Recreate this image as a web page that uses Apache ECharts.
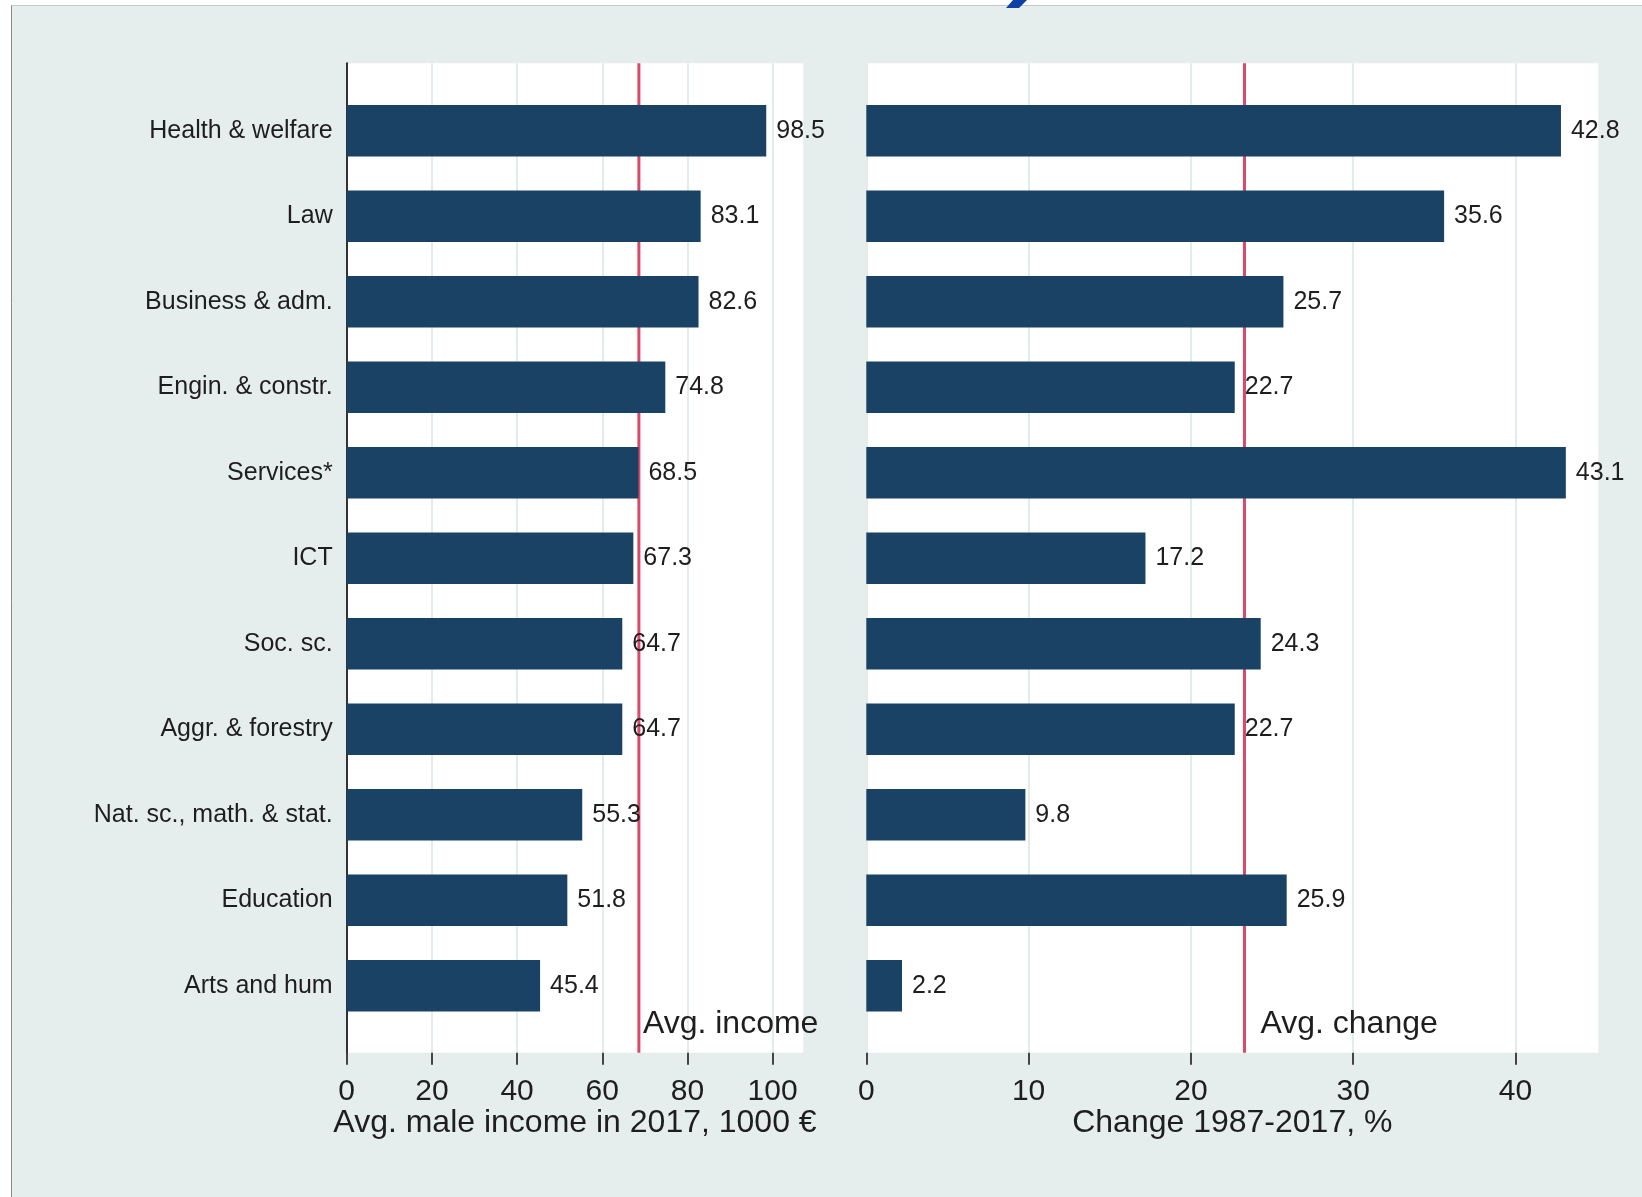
<!DOCTYPE html>
<html><head><meta charset="utf-8">
<script src="https://cdn.jsdelivr.net/npm/echarts@6/dist/echarts.min.js"></script>
<style>html,body{margin:0;padding:0;background:#e6eeed}#c{width:1642px;height:1197px}</style>
</head><body><div id="c"></div>
<script>
const categories = ['Health & welfare','Law','Business & adm.','Engin. & constr.','Services*','ICT','Soc. sc.','Aggr. & forestry','Nat. sc., math. & stat.','Education','Arts and hum'];
const income = [98.5, 83.1, 82.6, 74.8, 68.5, 67.3, 64.7, 64.7, 55.3, 51.8, 45.4];
const change = [42.8, 35.6, 25.7, 22.7, 43.1, 17.2, 24.3, 22.7, 9.8, 25.9, 2.2];
const avgIncome = 68.6;
const avgChange = 23.3;
const incomeTicks = [0, 20, 40, 60, 80, 100];
const changeTicks = [0, 10, 20, 30, 40];
const incomeAxisMax = 107.2;
const changeAxisMax = 45.1;
const incomeTitle = 'Avg. male income in 2017, 1000 €';
const changeTitle = 'Change 1987-2017, %';
const incomeAvgLabel = 'Avg. income';
const changeAvgLabel = 'Avg. change';

const FONT = "'Liberation Sans', Arial, sans-serif";
const TXT = '#1e1e1e';
const BAR = '#1a4265';
const RED = '#d94a68';

const chart = echarts.init(document.getElementById('c'), null, {renderer: 'canvas'});

const L = {left: 346.7, width: 456.6};
const R = {left: 866.3, width: 732};
const plotTop = 63.3, plotH = 989.4;
const barTop = 88, barH = 940.5;

function bgXAxis(grid, max, ticks, interval, name) {
  return {
    type: 'value', gridIndex: grid, min: 0, max: max, interval: interval,
    axisLine: {show: false},
    axisTick: {show: true, length: 12, lineStyle: {color: '#444', width: 2}, customValues: ticks},
    axisLabel: {show: true, margin: 24, fontSize: 30, lineHeight: 30, color: TXT, fontFamily: FONT, customValues: ticks},
    splitLine: {show: true, lineStyle: {color: '#e2edeb', width: 2}},
    name: name, nameLocation: 'middle', nameGap: 54, nameMoveOverlap: false,
    nameTextStyle: {fontSize: 32, lineHeight: 32, color: TXT, fontFamily: FONT}
  };
}
function barXAxis(grid, max) {
  return {type: 'value', gridIndex: grid, min: 0, max: max, show: false};
}

const option = {
  backgroundColor: '#e6eeed',
  animation: false,
  grid: [
    {left: L.left, top: plotTop, width: L.width, height: plotH, show: true, backgroundColor: '#ffffff', borderWidth: 0},
    {left: L.left, top: barTop, width: L.width, height: barH},
    {left: R.left, top: plotTop, width: R.width, height: plotH, show: true, backgroundColor: '#ffffff', borderWidth: 0},
    {left: R.left, top: barTop, width: R.width, height: barH}
  ],
  xAxis: [
    bgXAxis(0, incomeAxisMax, incomeTicks, 20, incomeTitle),
    barXAxis(1, incomeAxisMax),
    bgXAxis(2, changeAxisMax, changeTicks, 10, changeTitle),
    barXAxis(3, changeAxisMax)
  ],
  yAxis: [
    {type: 'value', gridIndex: 0, min: 0, max: 1, axisLine: {show: true, lineStyle: {color: '#333', width: 2}}, axisTick: {show: false}, axisLabel: {show: false}, splitLine: {show: false}},
    {type: 'category', gridIndex: 1, inverse: true, data: categories,
      axisLine: {show: false}, axisTick: {show: false},
      axisLabel: {fontSize: 25, color: TXT, fontFamily: FONT, margin: 14}},
    {type: 'value', gridIndex: 2, min: 0, max: 1, show: false},
    {type: 'category', gridIndex: 3, inverse: true, data: categories, show: false}
  ],
  series: [
    {type: 'line', xAxisIndex: 0, yAxisIndex: 0, z: 1, symbol: 'none', silent: true,
      data: [[avgIncome, 0], [avgIncome, 1]], lineStyle: {color: RED, width: 3}},
    {type: 'line', xAxisIndex: 2, yAxisIndex: 2, z: 1, symbol: 'none', silent: true,
      data: [[avgChange, 0], [avgChange, 1]], lineStyle: {color: RED, width: 3}},
    {type: 'bar', xAxisIndex: 1, yAxisIndex: 1, z: 3, data: income, barWidth: '60%',
      itemStyle: {color: BAR},
      label: {show: true, position: 'right', distance: 10, fontSize: 25, color: TXT, fontFamily: FONT,
        formatter: p => p.value.toFixed(1)}},
    {type: 'bar', xAxisIndex: 3, yAxisIndex: 3, z: 3, data: change, barWidth: '60%',
      itemStyle: {color: BAR},
      label: {show: true, position: 'right', distance: 10, fontSize: 25, color: TXT, fontFamily: FONT,
        formatter: p => p.value.toFixed(1)}}
  ]
};
chart.setOption(option);

const xInc = chart.convertToPixel({xAxisIndex: 0}, avgIncome);
const xChg = chart.convertToPixel({xAxisIndex: 2}, avgChange);
chart.setOption({
  graphic: [
    {type: 'rect', shape: {x: 0, y: 0, width: 1642, height: 5}, style: {fill: '#ffffff'}, z: 100, silent: true},
    {type: 'rect', shape: {x: 0, y: 0, width: 11, height: 1197}, style: {fill: '#ffffff'}, z: 100, silent: true},
    {type: 'line', shape: {x1: 11.5, y1: 5.5, x2: 1642, y2: 5.5}, style: {stroke: '#c4cccb', lineWidth: 1}, z: 100, silent: true},
    {type: 'line', shape: {x1: 11.5, y1: 5.5, x2: 11.5, y2: 1197}, style: {stroke: '#8a8a8a', lineWidth: 1}, z: 100, silent: true},
    {type: 'polygon', shape: {points: [[1013, 0], [1027, 0], [1019, 8], [1006, 8]]}, style: {fill: '#0d3fa6'}, z: 101, silent: true},
    {type: 'text', x: xInc + 4, y: 1024, z: 50, silent: true,
      style: {text: incomeAvgLabel, fontSize: 32, fontFamily: FONT, fill: TXT, verticalAlign: 'middle', align: 'left'}},
    {type: 'text', x: xChg + 16, y: 1024, z: 50, silent: true,
      style: {text: changeAvgLabel, fontSize: 32, fontFamily: FONT, fill: TXT, verticalAlign: 'middle', align: 'left'}}
  ]
});
</script></body></html>
